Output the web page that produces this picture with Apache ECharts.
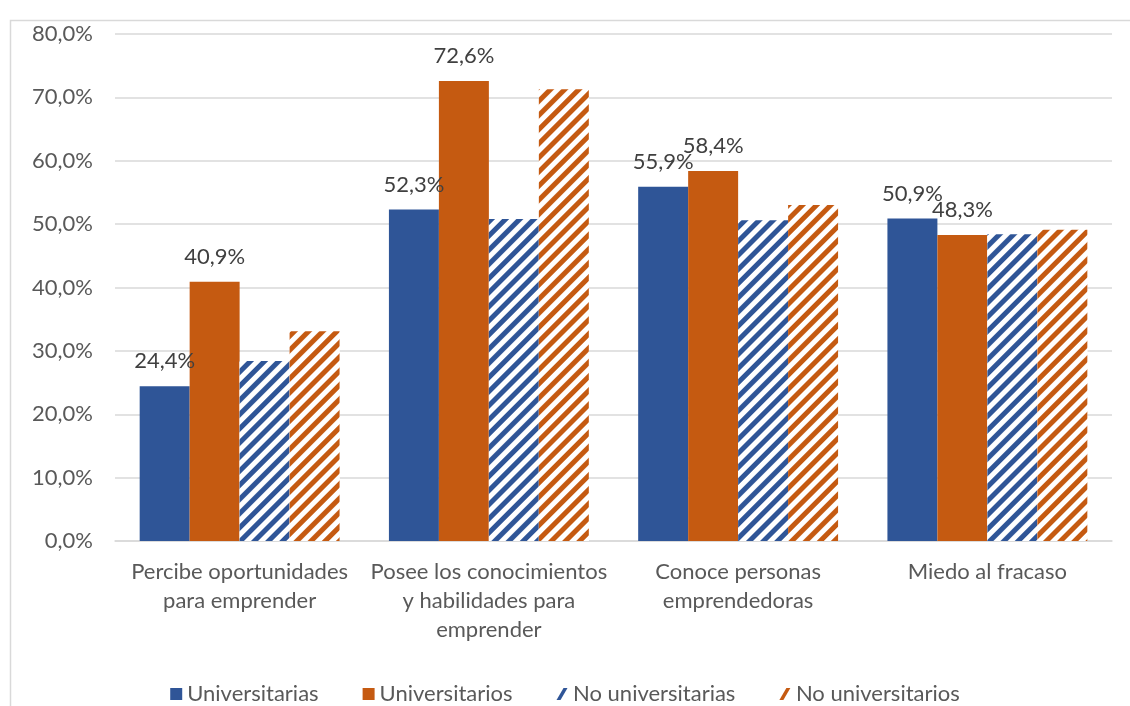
<!DOCTYPE html>
<html>
<head>
<meta charset="utf-8">
<style>
  html, body { margin: 0; padding: 0; background: #fff; }
  #chart { width: 1130px; height: 706px; }
</style>
<script src="https://cdn.jsdelivr.net/npm/echarts@6/dist/echarts.min.js"></script>
</head>
<body>
<div id="chart"></div>
<script>
// Categories and series values (percent)
const categories = [
  'Percibe oportunidades\npara emprender',
  'Posee los conocimientos\ny habilidades para\nemprender',
  'Conoce personas\nemprendedoras',
  'Miedo al fracaso'
];
const seriesNames = ['Universitarias', 'Universitarios', 'No universitarias', 'No universitarios'];
const universitarias = [24.4, 52.3, 55.9, 50.9];
const universitarios = [40.9, 72.6, 58.4, 48.3];
const noUniversitarias = [28.4, 50.8, 50.6, 48.4];
const noUniversitarios = [33.1, 71.3, 53.0, 49.1];
const yTicks = { min: 0, max: 80, interval: 10 };

const BLUE = '#2F5597';
const ORANGE = '#C55A11';
const FONT = 'Lato, "Open Sans", sans-serif';
const FS = 22;

const fmt = v => v.toFixed(1).replace('.', ',') + '%';

function solid(name, data, color) {
  return {
    name, type: 'bar', data,
    barGap: '0%', barCategoryGap: '19.8%',
    itemStyle: { color },
    label: {
      show: true, position: 'top', distance: 14,
      color: '#404040', fontSize: FS, fontFamily: FONT,
      formatter: p => fmt(p.value)
    }
  };
}
// white bars carrying diagonal "/" stripes in the series colour
function hatched(name, data, color) {
  return {
    name, type: 'bar', data,
    barGap: '0%', barCategoryGap: '19.8%',
    itemStyle: {
      color: '#ffffff',
      decal: {
        symbol: 'rect',
        color: color,
        backgroundColor: '#ffffff',
        dashArrayX: [1, 0],
        dashArrayY: [5, 5],
        rotation: -Math.PI / 4
      }
    }
  };
}

const slash = 'path://M7,0 L11,0 L4,12 L0,12 Z';

const chart = echarts.init(document.getElementById('chart'), null, { renderer: 'canvas' });
chart.setOption({
  animation: false,
  backgroundColor: '#ffffff',
  graphic: [{
    type: 'rect', left: 8, top: 18, z: -10,
    shape: { width: 1200, height: 800 },
    style: { fill: 'none', stroke: '#D9D9D9', lineWidth: 1.5 }
  }],
  grid: { left: 115, right: 18, top: 34, bottom: 165 },
  legend: {
    top: 678, left: 'center',
    itemWidth: 12, itemHeight: 12, itemGap: 44,
    textStyle: { color: '#595959', fontSize: FS, fontFamily: FONT },
    data: [
      { name: seriesNames[0], icon: 'rect' },
      { name: seriesNames[1], icon: 'rect' },
      { name: seriesNames[2], icon: slash, itemStyle: { color: BLUE, decal: 'none' } },
      { name: seriesNames[3], icon: slash, itemStyle: { color: ORANGE, decal: 'none' } }
    ]
  },
  xAxis: {
    type: 'category', data: categories,
    axisLine: { lineStyle: { color: '#D9D9D9', width: 1.5 } },
    axisTick: { show: false },
    axisLabel: {
      color: '#595959', fontSize: FS, fontFamily: FONT,
      lineHeight: 29, margin: 16, interval: 0
    }
  },
  yAxis: {
    type: 'value', min: yTicks.min, max: yTicks.max, interval: yTicks.interval,
    axisLine: { show: false }, axisTick: { show: false },
    splitLine: { lineStyle: { color: '#D9D9D9', width: 1.5 } },
    axisLabel: {
      color: '#595959', fontSize: FS, fontFamily: FONT, margin: 22,
      formatter: v => fmt(v)
    }
  },
  series: [
    solid(seriesNames[0], universitarias, BLUE),
    solid(seriesNames[1], universitarios, ORANGE),
    hatched(seriesNames[2], noUniversitarias, BLUE),
    hatched(seriesNames[3], noUniversitarios, ORANGE)
  ]
});
</script>
</body>
</html>
